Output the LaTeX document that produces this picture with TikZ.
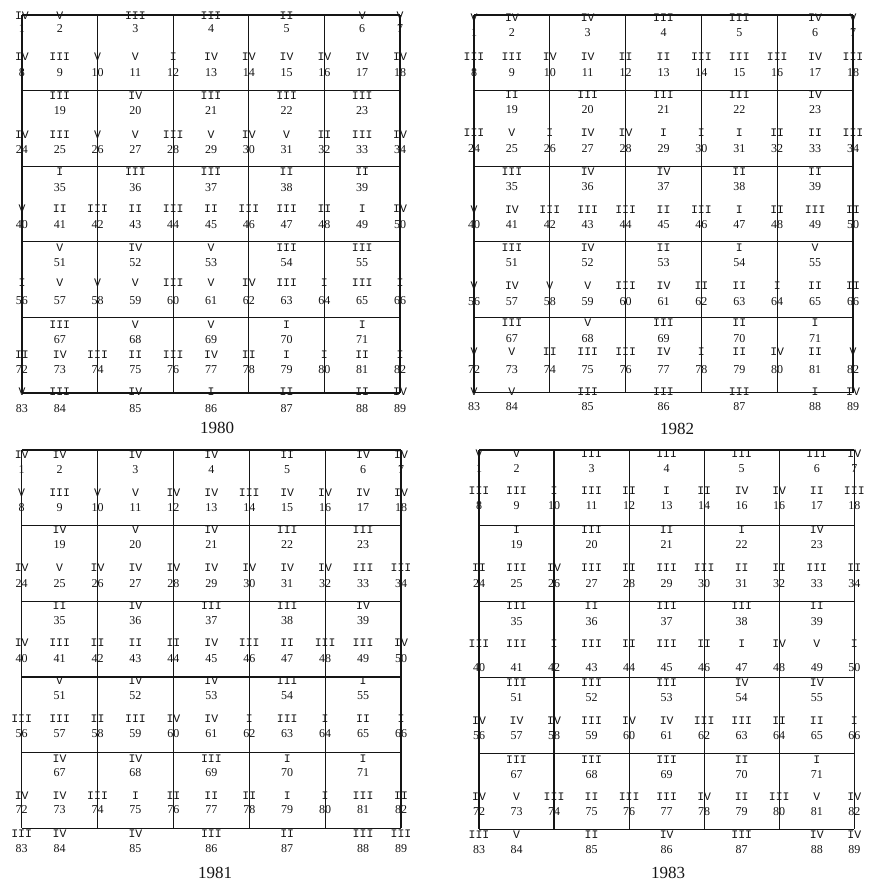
\documentclass[tikz,border=0pt]{standalone}
\usepackage{fontspec}
\setmainfont{Liberation Serif}
\newfontfamily\romfam{Liberation Mono}
\usepackage{xcolor}
\usepackage{tikz}
\usetikzlibrary{positioning}
\definecolor{ink}{HTML}{151515}
\newcommand{\romfont}{\romfam\fontsize{11.5}{11.5}\selectfont}
\newcommand{\numfont}{\fontsize{12}{12}\selectfont}

% grid of 5x5 plots: tag, left, top, cell width, cell height
\newcommand{\plotgrid}[5]{%
  \def\plotx{#2}\def\ploty{#3}\def\cellw{#4}\def\cellh{#5}%
  \foreach \k in {0,...,5}{%
    \draw[gridln] (#2,{#3+\k*#5}) -- ({#2+5*#4},{#3+\k*#5});
    \draw[gridln] ({#2+\k*#4},#3) -- ({#2+\k*#4},{#3+5*#5});
  }}
% points on the top or bottom line (corners and plot centres)
\newcommand{\edgerow}[4]{%
  \foreach \rn/\nm [count=\j from 0] in {#4}{%
    \pgfmathsetmacro{\hx}{min(10,max(0,2*\j-1))}
    \node[rom] (#1r\nm) at ({\plotx+\hx*\cellw/2},#2) {\rn};
    \node[num] (#1n\nm) at ({\plotx+\hx*\cellw/2},#3) {\nm};
  }}
% points on an inner line (plot centres only)
\newcommand{\innerrow}[4]{%
  \foreach \rn/\nm [count=\j from 0] in {#4}{%
    \pgfmathsetmacro{\hx}{2*\j+1}
    \node[rom] (#1r\nm) at ({\plotx+\hx*\cellw/2},#2) {\rn};
    \node[num] (#1n\nm) at ({\plotx+\hx*\cellw/2},#3) {\nm};
  }}
% points half way down a row of plots (lines and centres)
\newcommand{\midrow}[4]{%
  \foreach \rn/\nm [count=\j from 0] in {#4}{%
    \node[rom] (#1r\nm) at ({\plotx+\j*\cellw/2},#2) {\rn};
    \node[num] (#1n\nm) at ({\plotx+\j*\cellw/2},#3) {\nm};
  }}

\begin{document}
\begin{tikzpicture}[x=1pt,y=-1pt,
  gridln/.style={draw=ink,line width=1.2pt},
  rom/.style={font=\romfont,text=ink,inner sep=0pt},
  num/.style={font=\numfont,text=ink,inner sep=0pt},
  yr/.style={font=\fontsize{17}{17}\selectfont,text=ink,inner sep=0pt}]
  \useasboundingbox (0,0) rectangle (868,881);
  % 1980
  \plotgrid{a}{22}{15}{75.6}{75.6}
  \edgerow{a}{16}{29}{IV/1,V/2,III/3,III/4,II/5,V/6,V/7}
  \midrow{a}{57}{72.5}{IV/8,III/9,V/10,V/11,I/12,IV/13,IV/14,IV/15,IV/16,IV/17,IV/18}
  \innerrow{a}{96}{111}{III/19,IV/20,III/21,III/22,III/23}
  \midrow{a}{135}{150}{IV/24,III/25,V/26,V/27,III/28,V/29,IV/30,V/31,II/32,III/33,IV/34}
  \innerrow{a}{172}{188}{I/35,III/36,III/37,II/38,II/39}
  \midrow{a}{209}{225}{V/40,II/41,III/42,II/43,III/44,II/45,III/46,III/47,II/48,I/49,IV/50}
  \innerrow{a}{248}{263}{V/51,IV/52,V/53,III/54,III/55}
  \midrow{a}{283}{301}{I/56,V/57,V/58,V/59,III/60,V/61,IV/62,III/63,I/64,III/65,I/66}
  \innerrow{a}{325}{340}{III/67,V/68,V/69,I/70,I/71}
  \midrow{a}{355}{370}{II/72,IV/73,III/74,II/75,III/76,IV/77,II/78,I/79,I/80,II/81,I/82}
  \edgerow{a}{392}{409}{V/83,III/84,IV/85,I/86,II/87,II/88,IV/89}
  \node[yr] (a-year) at (217,428) {1980};
  % 1982
  \plotgrid{b}{474}{15}{75.8}{75.55}
  \edgerow{b}{18}{33}{V/1,IV/2,IV/3,III/4,III/5,IV/6,V/7}
  \midrow{b}{57}{72.5}{III/8,III/9,IV/10,IV/11,II/12,II/13,III/14,III/15,III/16,IV/17,III/18}
  \innerrow{b}{95}{110}{II/19,III/20,III/21,III/22,IV/23}
  \midrow{b}{133}{149}{III/24,V/25,I/26,IV/27,IV/28,I/29,I/30,I/31,II/32,II/33,III/34}
  \innerrow{b}{172}{187}{III/35,IV/36,IV/37,II/38,II/39}
  \midrow{b}{210}{225}{V/40,IV/41,III/42,III/43,III/44,II/45,III/46,I/47,II/48,III/49,II/50}
  \innerrow{b}{248}{263}{III/51,IV/52,II/53,I/54,V/55}
  \midrow{b}{286}{302}{V/56,IV/57,V/58,V/59,III/60,IV/61,II/62,II/63,I/64,II/65,II/66}
  \innerrow{b}{323}{339}{III/67,V/68,III/69,II/70,I/71}
  \midrow{b}{352}{370}{V/72,V/73,II/74,III/75,III/76,IV/77,I/78,II/79,IV/80,II/81,V/82}
  \edgerow{b}{392}{407}{V/83,V/84,III/85,III/86,III/87,I/88,IV/89}
  \node[yr] (b-year) at (677,429) {1982};
  % 1981
  \plotgrid{c}{21.7}{450}{75.86}{75.66}
  \edgerow{c}{455}{470}{IV/1,IV/2,IV/3,IV/4,II/5,IV/6,IV/7}
  \midrow{c}{492.7}{507.7}{V/8,III/9,V/10,V/11,IV/12,IV/13,III/14,IV/15,IV/16,IV/17,IV/18}
  \innerrow{c}{530}{545}{IV/19,V/20,IV/21,III/22,III/23}
  \midrow{c}{567.7}{583.3}{IV/24,V/25,IV/26,IV/27,IV/28,IV/29,IV/30,IV/31,IV/32,III/33,III/34}
  \innerrow{c}{605.7}{620.7}{II/35,IV/36,III/37,III/38,IV/39}
  \midrow{c}{642.7}{658.3}{IV/40,III/41,II/42,II/43,II/44,IV/45,III/46,II/47,III/48,III/49,IV/50}
  \innerrow{c}{680.7}{696}{V/51,IV/52,IV/53,III/54,I/55}
  \midrow{c}{718.3}{734}{III/56,III/57,II/58,III/59,IV/60,IV/61,I/62,III/63,I/64,II/65,I/66}
  \innerrow{c}{758.3}{772.7}{IV/67,IV/68,III/69,I/70,I/71}
  \midrow{c}{796}{810}{IV/72,IV/73,III/74,I/75,II/76,II/77,II/78,I/79,I/80,III/81,II/82}
  \edgerow{c}{833.3}{848.3}{III/83,IV/84,IV/85,III/86,II/87,III/88,III/89}
  \node[yr] (c-year) at (215,873) {1981};
  % 1983
  \plotgrid{d}{479}{450}{75.06}{75.86}
  \edgerow{d}{453.3}{468.3}{V/1,V/2,III/3,III/4,III/5,III/6,IV/7}
  \midrow{d}{491}{506}{III/8,III/9,I/10,III/11,II/12,I/13,II/14,IV/16,IV/16,II/17,III/18}
  \innerrow{d}{529.3}{544.3}{I/19,III/20,II/21,I/22,IV/23}
  \midrow{d}{567.7}{583.3}{II/24,III/25,IV/26,III/27,II/28,III/29,III/30,II/31,II/32,III/33,II/34}
  \innerrow{d}{605.7}{621.7}{III/35,II/36,III/37,III/38,II/39}
  \midrow{d}{644}{667.7}{III/40,III/41,I/42,III/43,II/44,III/45,II/46,I/47,IV/48,V/49,I/50}
  \innerrow{d}{682.7}{697.7}{III/51,III/52,III/53,IV/54,IV/55}
  \midrow{d}{720.7}{736}{IV/56,IV/57,IV/58,III/59,IV/60,IV/61,III/62,III/63,II/64,II/65,I/66}
  \innerrow{d}{759.3}{774.3}{III/67,III/68,III/69,II/70,I/71}
  \midrow{d}{796.7}{811.7}{IV/72,V/73,III/74,II/75,III/76,III/77,IV/78,II/79,III/80,V/81,IV/82}
  \edgerow{d}{835}{849.3}{III/83,V/84,II/85,IV/86,III/87,IV/88,IV/89}
  \node[yr] (d-year) at (668,873) {1983};
\end{tikzpicture}
\end{document}
